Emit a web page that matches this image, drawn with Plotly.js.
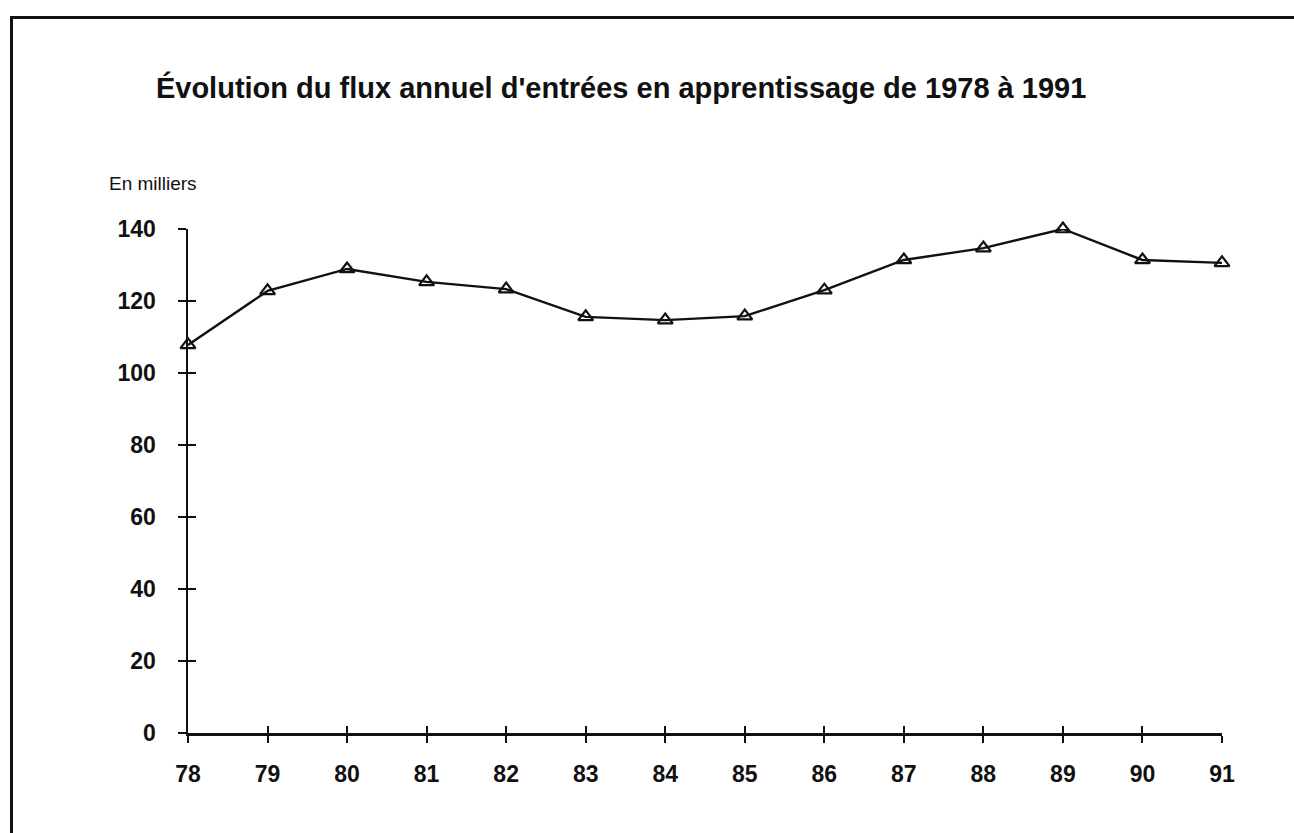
<!DOCTYPE html>
<html>
<head>
<meta charset="utf-8">
<script src="https://cdn.plot.ly/plotly-3.0.1.min.js"></script>
<style>
  html, body { margin: 0; padding: 0; background: #fff; }
  #frame { position: absolute; left: 10px; top: 16px; width: 1290px; height: 820px; border-left: 3px solid #111; border-top: 3px solid #111; box-sizing: border-box; }
  #chart { position: absolute; left: 0; top: 0; width: 1294px; height: 833px; }
</style>
</head>
<body>
<div id="frame"></div>
<div id="chart"></div>
<script>
const years = [78, 79, 80, 81, 82, 83, 84, 85, 86, 87, 88, 89, 90, 91];
const entrees = [107.8, 122.8, 128.9, 125.3, 123.3, 115.6, 114.7, 115.8, 123, 131.4, 134.7, 140, 131.4, 130.6];
const yTicks = [0, 20, 40, 60, 80, 100, 120, 140];
const titleText = "Évolution du flux annuel d'entrées en apprentissage de 1978 à 1991";
const unitText = "En milliers";

const font = "Liberation Sans, Arial, sans-serif";

const traces = [
  {
    x: years, y: entrees, type: 'scatter', mode: 'lines+markers',
    line: { color: '#111', width: 2.4 },
    marker: { symbol: 'triangle-up-open', size: 13, color: '#111', line: { width: 2.2, color: '#111' } },
    cliponaxis: false, hoverinfo: 'x+y'
  },
  {
    x: years, y: entrees, xaxis: 'x2', yaxis: 'y2', type: 'scatter', mode: 'lines',
    line: { width: 0 }, opacity: 0, hoverinfo: 'skip', showlegend: false
  }
];

const axisCommon = { showgrid: false, zeroline: false, showline: true, linecolor: '#111', linewidth: 2.5, tickcolor: '#111', tickwidth: 2 };

const layout = {
  width: 1294, height: 833,
  margin: { l: 188, r: 72, t: 229, b: 100 },
  paper_bgcolor: 'rgba(0,0,0,0)', plot_bgcolor: 'rgba(0,0,0,0)',
  showlegend: false,
  title: { text: '<b>' + titleText + '</b>', x: 0.48, xanchor: 'center', y: 0.894, yanchor: 'middle', font: { family: font, size: 29, color: '#111' } },
  xaxis: Object.assign({}, axisCommon, {
    range: [78, 91], tickmode: 'array', tickvals: years, ticktext: years.map(v => '<b>' + v + '</b>'),
    ticks: 'outside', ticklen: 7, tickfont: { family: font, size: 23, color: '#111' }, ticklabelstandoff: 12
  }),
  yaxis: Object.assign({}, axisCommon, {
    range: [0, 140], tickmode: 'array', tickvals: yTicks, ticktext: yTicks.map(v => '<b>' + v + '</b>'),
    ticks: 'outside', ticklen: 8, tickfont: { family: font, size: 23, color: '#111' }, ticklabelstandoff: 17
  }),
  xaxis2: Object.assign({}, axisCommon, { overlaying: 'x', range: [78, 91], tickmode: 'array', tickvals: years, ticks: 'inside', ticklen: 7, showticklabels: false }),
  yaxis2: Object.assign({}, axisCommon, { overlaying: 'y', range: [0, 140], tickmode: 'array', tickvals: yTicks, ticks: 'inside', ticklen: 8, showticklabels: false }),
  annotations: [
    { text: unitText, xref: 'paper', yref: 'paper', x: -0.078, y: 1.09, xanchor: 'left', yanchor: 'middle', showarrow: false, font: { family: font, size: 19, color: '#111' } }
  ]
};

Plotly.newPlot('chart', traces, layout, { displayModeBar: false, staticPlot: true });
</script>
</body>
</html>
